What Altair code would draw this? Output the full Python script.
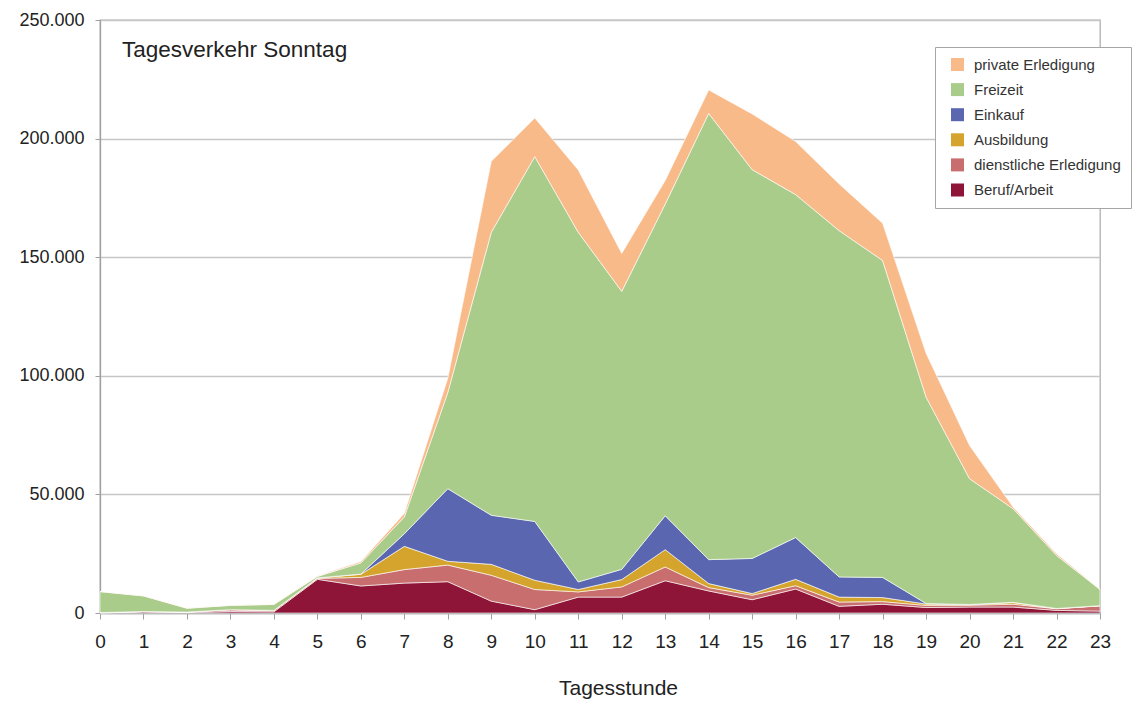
import altair as alt
import pandas as pd

# Hourly trip counts on a Sunday, by trip purpose
hours = list(range(24))

beruf_arbeit = [0, 500, 200, 600, 500, 14200, 11400, 12600, 13200, 5000, 1400, 6700,
                6700, 13600, 9300, 5600, 10100, 2800, 3700, 2300, 2500, 2500, 1100, 800]
dienstliche_erledigung = [200, 100, 200, 800, 600, 400, 3600, 5700, 7000, 10900, 8500, 2200,
                          4300, 5800, 1400, 1900, 1400, 1800, 1100, 900, 800, 1200, 700, 2200]
ausbildung = [0, 0, 0, 0, 0, 200, 1300, 9800, 1600, 4600, 3900, 1000,
              3100, 7300, 1700, 700, 2700, 2100, 1700, 600, 200, 700, 100, 100]
einkauf = [0, 0, 0, 0, 0, 0, 100, 5300, 30600, 20700, 24800, 3200,
           4300, 14300, 10100, 14800, 17600, 8500, 8500, 200, 100, 100, 0, 0]
freizeit = [8800, 6600, 1600, 1800, 2500, 600, 4700, 7100, 40600, 119300, 153800, 147400,
            117200, 131400, 188100, 163900, 144600, 146000, 133600, 87000, 53000, 39500, 22400, 6800]
private_erledigung = [100, 100, 100, 100, 100, 200, 600, 1500, 6000, 29900, 16300, 26300,
                      16000, 9900, 9900, 23500, 22400, 19700, 15700, 18500, 14000, 700, 700, 100]

# Stacking order, bottom to top
purposes = ["Beruf/Arbeit", "dienstliche Erledigung", "Ausbildung",
            "Einkauf", "Freizeit", "private Erledigung"]
series = [beruf_arbeit, dienstliche_erledigung, ausbildung,
          einkauf, freizeit, private_erledigung]
colors = ["#8F1538", "#C86E6E", "#D4A42C", "#5A67B0", "#AACC8A", "#F9BA8A"]

y_ticks = [0, 50000, 100000, 150000, 200000, 250000]

rows = []
for rank, (name, values) in enumerate(zip(purposes, series)):
    for h, v in zip(hours, values):
        rows.append({"Tagesstunde": h, "Zweck": name, "Wege": v, "rang": rank})
df = pd.DataFrame(rows)

FONT = "Liberation Sans"

areas = alt.Chart(df).mark_area(
    stroke="white", strokeWidth=0.8, strokeOpacity=0.75, opacity=1
).encode(
    x=alt.X(
        "Tagesstunde:Q",
        scale=alt.Scale(domain=[0, 23], nice=False, zero=False),
        axis=alt.Axis(
            values=hours, title="Tagesstunde", grid=False, format="d",
            labelFontSize=19, labelPadding=13, tickSize=6, labelFlush=False,
            titleFontSize=21, titleFontWeight="normal", titlePadding=26,
            titleX=518,
        ),
    ),
    y=alt.Y(
        "Wege:Q",
        stack="zero",
        scale=alt.Scale(domain=[0, 250000], nice=False),
        axis=alt.Axis(
            values=y_ticks, title=None, tickSize=5, labelPadding=11,
            labelFontSize=18,
            labelExpr="replace(format(datum.value, ','), ',', '.')",
        ),
    ),
    color=alt.Color(
        "Zweck:N",
        scale=alt.Scale(domain=purposes[::-1], range=colors[::-1]),
        legend=alt.Legend(
            title=None, orient="none", legendX=835, legendY=27,
            symbolType="square", symbolSize=169, symbolStrokeWidth=0,
            symbolOffset=5,
            labelFontSize=15, labelFont=FONT, rowPadding=9.1,
            padding=10, strokeColor="#a6a6a6", fillColor="white",
            labelColor="#333333", labelOffset=9,
        ),
    ),
    order=alt.Order("rang:Q", sort="ascending"),
)

heading = alt.Chart(pd.DataFrame({"t": ["Tagesverkehr Sonntag"]})).mark_text(
    align="left", baseline="middle", fontSize=22.5, font=FONT, color="#222222"
).encode(
    text="t:N", x=alt.value(22), y=alt.value(30)
)

chart = alt.layer(areas, heading).properties(
    width=1000, height=593,
    autosize=alt.AutoSizeParams(type="none"),
    padding={"left": 100, "top": 20, "right": 36, "bottom": 92},
).configure(
    font=FONT,
).configure_axis(
    domainColor="#a0a0a0", tickColor="#a0a0a0", gridColor="#c6c6c6",
    gridWidth=1.3, domainWidth=1.3, labelColor="#222222", titleColor="#222222",
    labelFont=FONT, titleFont=FONT,
).configure_view(
    stroke="#b0b0b0", strokeWidth=1.3,
)

chart.save("out.html", embed_options={"renderer": "svg", "actions": False})
